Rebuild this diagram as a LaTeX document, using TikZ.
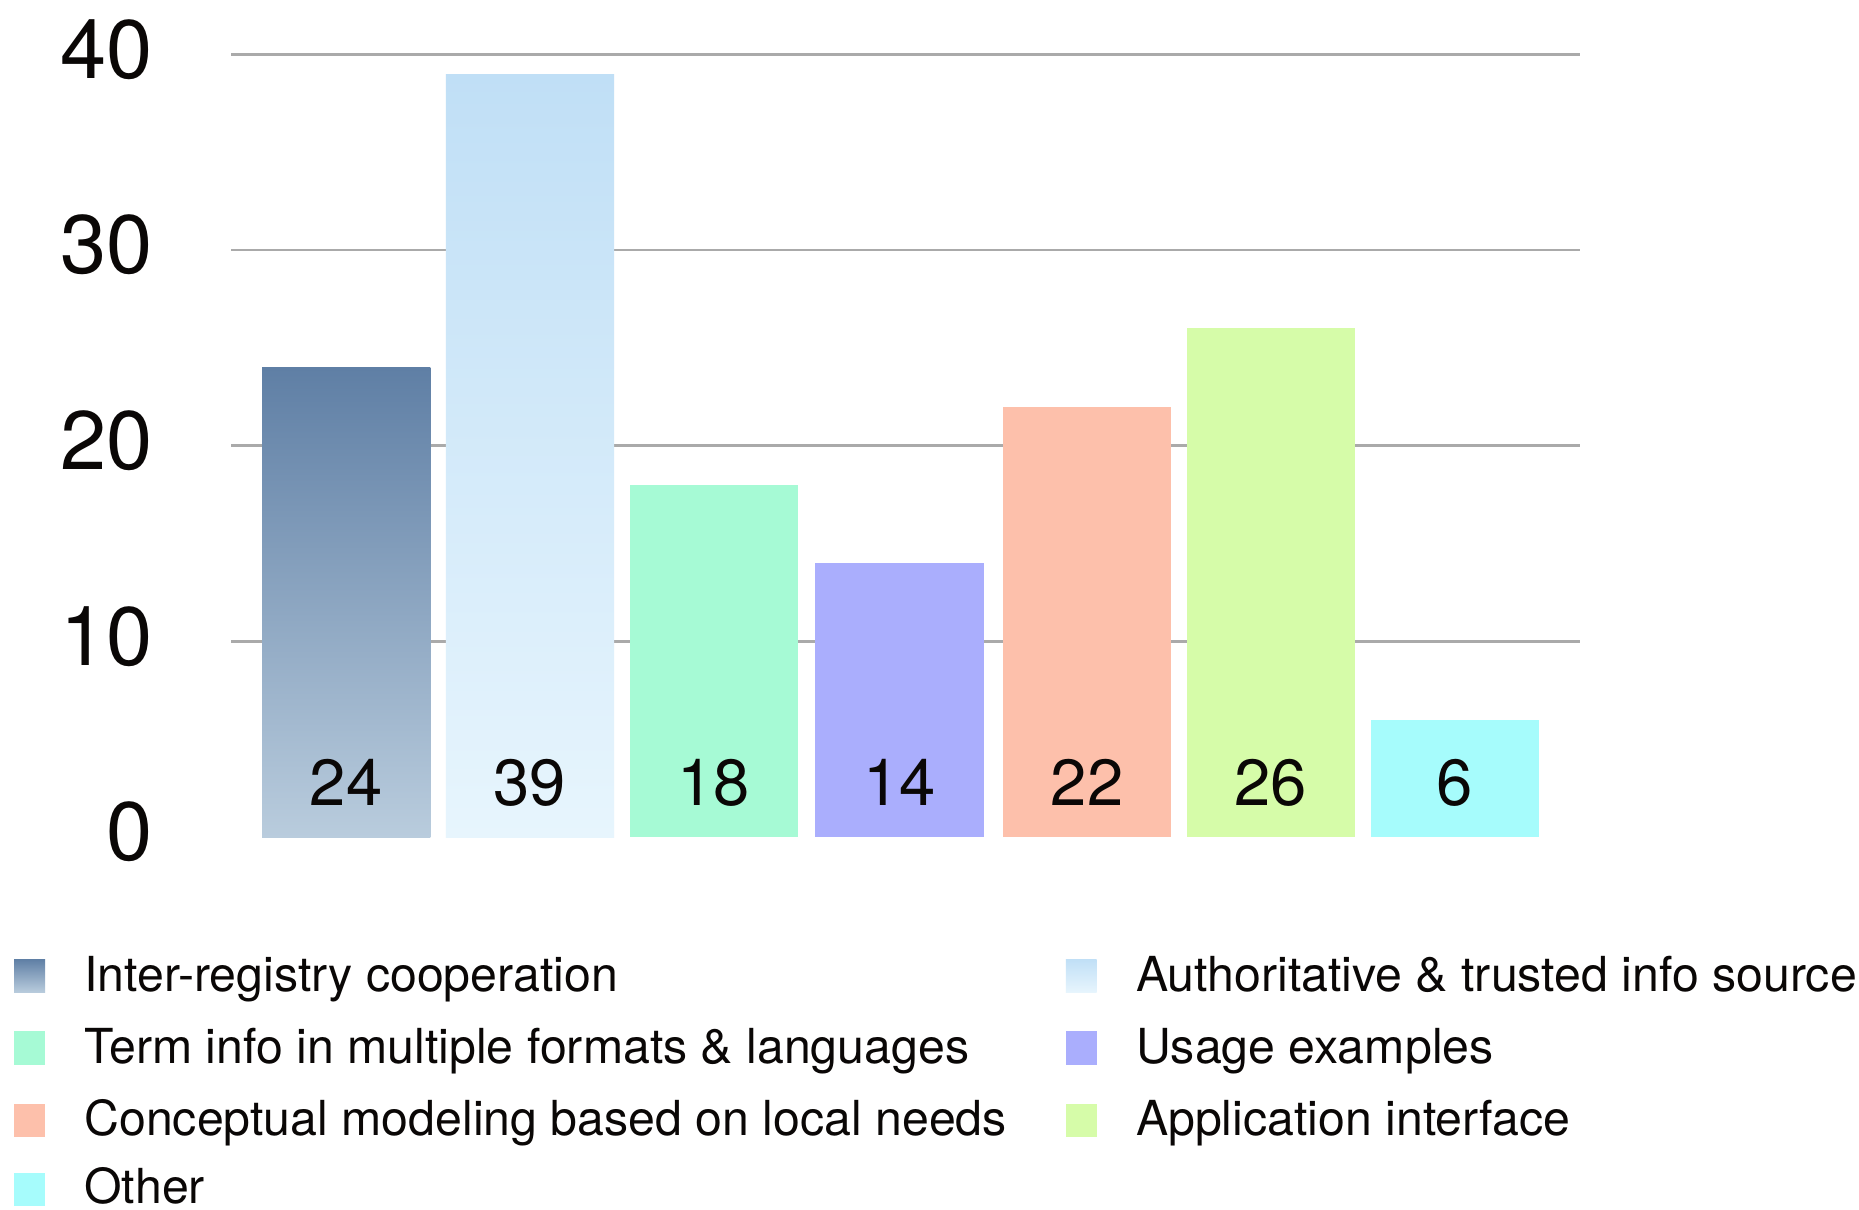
\documentclass[tikz,border=0pt]{standalone}
\usepackage{fontspec}
\setmainfont{TeX Gyre Heros}
\usetikzlibrary{shadings}
\definecolor{gridc}{HTML}{AAAAAA}
\definecolor{cAtop}{HTML}{5F7FA5}
\definecolor{cAbot}{HTML}{B9CCDD}
\definecolor{cBtop}{HTML}{C0DFF6}
\definecolor{cBbot}{HTML}{E7F5FD}
\definecolor{cC}{HTML}{A6FAD5}
\definecolor{cD}{HTML}{AAAEFD}
\definecolor{cE}{HTML}{FDC0AB}
\definecolor{cF}{HTML}{D6FCA9}
\definecolor{cG}{HTML}{A6FCFC}
\definecolor{txt}{HTML}{0A0706}
\tikzset{
  gridline/.style={draw=gridc, line width=2.2pt},
  ylab/.style={anchor=base east, inner sep=0pt, text=txt, font=\fontsize{70}{80}\selectfont},
  vlab/.style={anchor=base, inner sep=0pt, text=txt, font=\fontsize{55}{64}\selectfont},
  leglab/.style={anchor=base west, inner sep=0pt, text=txt, font=\fontsize{40.7}{48}\selectfont},
  gradA/.style={top color=cAtop, bottom color=cAbot, draw=none},
  gradB/.style={top color=cBtop, bottom color=cBbot, draw=none},
}
\begin{document}
\begin{tikzpicture}[x=1pt,y=-1pt]
\useasboundingbox[fill=white] (0,0) rectangle (1568,1020);
% gridlines and y labels
\foreach \v/\y in {40/46,30/211,20/376,10/541}{
  \draw[gridline] (195,\y) -- (1333,\y);
}
\foreach \v/\y in {40/46,30/211,20/376,10/541,0/706}{
  \node[ylab] (y\v) at (129,\y+20) {\v};
}
% bars
\shade[gradA] (221,310) rectangle (363,706);
\shade[gradB] (376,62.5) rectangle (518,706);
\fill[cC] (531,409) rectangle (673,706);
\fill[cD] (687,475) rectangle (830,706);
\fill[cE] (846,343) rectangle (988,706);
\fill[cF] (1001,277) rectangle (1143,706);
\fill[cG] (1156,607) rectangle (1298,706);
% value labels
\node[vlab] (v1) at (292,679) {24};
\node[vlab] (v2) at (447,679) {39};
\node[vlab] (v3) at (602,679) {18};
\node[vlab] (v4) at (758.5,679) {14};
\node[vlab] (v5) at (917,679) {22};
\node[vlab] (v6) at (1072,679) {26};
\node[vlab] (v7) at (1227,679) {6};
% legend
\shade[gradA] (12,809) rectangle (38,837);
\node[leglab] (l1) at (71,836) {Inter-registry cooperation};
\shade[gradB] (899,809) rectangle (925,837);
\node[leglab] (l2) at (958,836) {Authoritative \& trusted info source};
\fill[cC] (12,870) rectangle (38,898);
\node[leglab] (l3) at (71,897) {Term info in multiple formats \& languages};
\fill[cD] (899,870) rectangle (925,898);
\node[leglab] (l4) at (958,897) {Usage examples};
\fill[cE] (12,931) rectangle (38,959);
\node[leglab] (l5) at (71,958) {Conceptual modeling based on local needs};
\fill[cF] (899,931) rectangle (925,959);
\node[leglab] (l6) at (958,958) {Application interface};
\fill[cG] (12,989) rectangle (38,1017);
\node[leglab, text depth=0pt] (l7) at (71,1015) {Other};
\end{tikzpicture}
\end{document}
